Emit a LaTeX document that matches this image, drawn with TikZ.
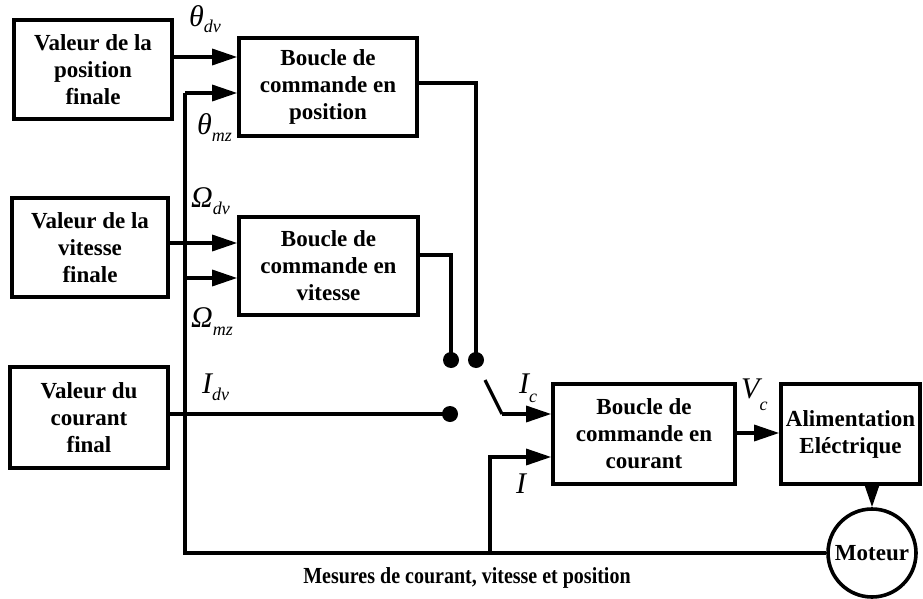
\documentclass[tikz,border=0pt]{standalone}
\usepackage{fontspec}
\setmainfont{Liberation Serif}
\usetikzlibrary{arrows.meta}
\newcommand\lsub[2]{\raisebox{-#1pt}{\fontsize{18}{18}\selectfont #2}}
\begin{document}
\begin{tikzpicture}[x=1pt,y=-1pt,
 box/.style={draw,line width=3.6pt,align=center,inner sep=0pt,font=\bfseries\fontsize{23}{27}\selectfont},
 wire/.style={line width=3.2pt},
 arr/.style={wire,-{Triangle[length=25pt,width=16pt]}},
 dotn/.style={circle,fill,inner sep=0pt,minimum size=16pt},
 lab/.style={anchor=base west,inner sep=0pt,font=\itshape\fontsize{30}{30}\selectfont}]
\useasboundingbox (0,0) rectangle (923,599);
\fill[white] (0,0) rectangle (923,599);

% boxes
\node[box,minimum width=158pt,minimum height=99pt] (vp) at (93,69.5) {Valeur de la\\position\\finale};
\node[box,minimum width=178pt,minimum height=98pt] (bp) at (328,87) {Boucle de\\commande en\\position};
\node[box,minimum width=156pt,minimum height=99pt] (vv) at (90,247.5) {Valeur de la\\vitesse\\finale};
\node[box,minimum width=179pt,minimum height=98pt] (bv) at (328.5,266) {Boucle de\\commande en\\vitesse};
\node[box,minimum width=158pt,minimum height=101pt] (vc) at (89,417.5) {Valeur du\\courant\\final};
\node[box,minimum width=182pt,minimum height=100pt] (bc) at (644,434) {Boucle de\\commande en\\courant};
\node[box,minimum width=139pt,minimum height=100pt] (al) at (850.5,434) {Alimentation\\Eléctrique};
\node[box,circle,minimum size=88pt] (mot) at (872,553) {Moteur};

% labels
\node[lab] (tdv) at (189,27) {θ\lsub{6}{dv}};
\node[lab] (tmz) at (197,135) {θ\lsub{6}{mz}};
\node[lab] (odv) at (191,207) {Ω\lsub{7}{dv}};
\node[lab] (omz) at (191,327) {Ω\lsub{8}{mz}};
\node[lab] (idv) at (202,393) {I\lsub{7}{dv}};
\node[lab] (ic) at (519,393) {I\lsub{9}{c}};
\node[lab] (vcl) at (741,398) {V\lsub{12}{c}};
\node[lab] (il) at (516,493) {I};
\node[font=\bfseries\fontsize{20}{24}\selectfont] (mes) at (467,578) {\scalebox{1}[1.15]{Mesures de courant, vitesse et position}};

% junction points
\coordinate (fbb) at (185,553);
\coordinate (fbt) at (185,93);
\coordinate (fbm) at (185,278);
\coordinate (ib) at (490,553);
\coordinate (bl) at (485,380);
\coordinate (sw) at (502,414);
\node[dotn] (d1) at (451,360) {};
\node[dotn] (d2) at (476,360) {};
\node[dotn] (d3) at (450,414) {};

% connectors
\draw[arr] (vp.east |- 0,57) -- (bp.west |- 0,57);
\draw[arr] (vv.east |- 0,243) -- (bv.west |- 0,243);
\draw[wire] (mot.west) -- (fbb) -- (fbt);
\draw[arr] (fbt) -- (fbt -| bp.west);
\draw[arr] (fbm) -- (fbm -| bv.west);
\draw[arr] (ib) |- (bc.west |- 0,457);
\draw[wire] (bp.east |- 0,83) -| (d2.center);
\draw[wire] (bv.east |- 0,255) -| (d1.center);
\draw[wire] (vc.east |- d3) -- (d3.center);
\draw[wire] (bl) -- (sw);
\draw[arr] (sw) -- (sw -| bc.west);
\draw[arr] (bc.east |- 0,433) -- (al.west |- 0,433);
\draw[arr] (al.south -| mot.north) -- (mot.north);
\end{tikzpicture}
\end{document}
